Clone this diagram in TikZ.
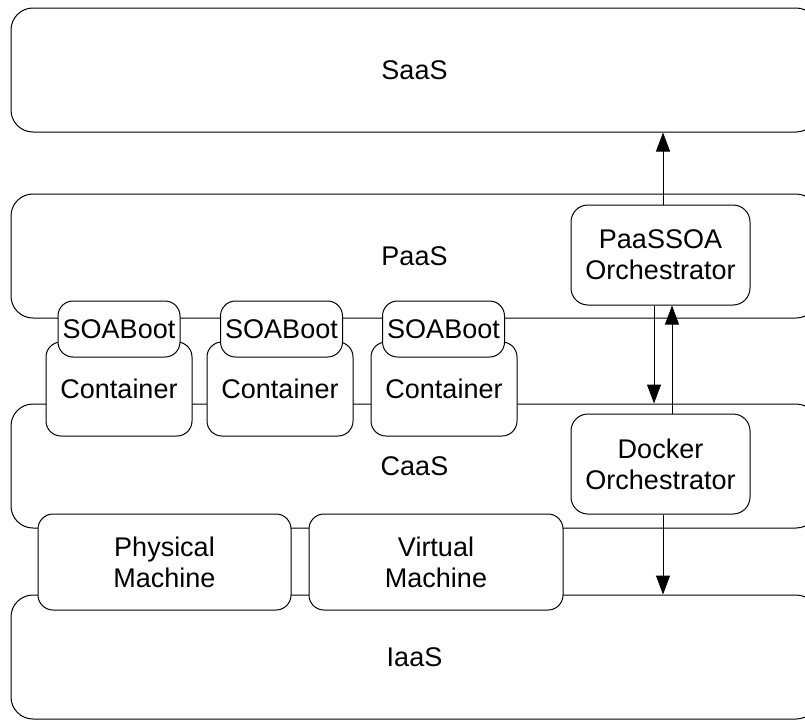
\documentclass[tikz,border=0pt]{standalone}
\usepackage{fontspec}
\setmainfont{Liberation Sans}
\usetikzlibrary{arrows.meta}
\tikzset{
  layer/.style={draw=black, line width=1pt, rounded corners=22pt, fill=white, inner sep=0pt, font=\fontsize{27}{31}\selectfont},
  box/.style={draw=black, line width=1pt, rounded corners=15pt, fill=white, inner sep=0pt, align=center, font=\fontsize{27}{31}\selectfont},
  arr/.style={line width=1pt, -{Triangle[length=19pt,width=14pt]}}
}
\begin{document}
\begin{tikzpicture}[x=1pt,y=-1pt]
\useasboundingbox (0,0) rectangle (805,720);
\clip (0,0) rectangle (805,720);
% layers
\node[layer, minimum width=807pt, minimum height=124pt] (saas) at (414.5,70) {SaaS};
\node[layer, minimum width=807pt, minimum height=124pt] (paas) at (414.5,256) {PaaS};
\node[layer, minimum width=807pt, minimum height=124pt] (caas) at (414.5,466) {CaaS};
\node[layer, minimum width=807pt, minimum height=124pt] (iaas) at (414.5,657) {IaaS};
% containers
\node[box, minimum width=146pt, minimum height=94pt] (c1) at (119,389) {Container};
\node[box, minimum width=146pt, minimum height=94pt] (c2) at (280,389) {Container};
\node[box, minimum width=146pt, minimum height=94pt] (c3) at (444,389) {Container};
% SOABoot
\node[box, minimum width=122pt, minimum height=56pt] (s1) at (119,329) {SOABoot};
\node[box, minimum width=122pt, minimum height=56pt] (s2) at (281.5,329) {SOABoot};
\node[box, minimum width=122pt, minimum height=56pt] (s3) at (443.5,329) {SOABoot};
% machines
\node[box, minimum width=253pt, minimum height=96pt] (pm) at (164.5,562) {Physical\\Machine};
\node[box, minimum width=254pt, minimum height=96pt] (vm) at (436,562) {Virtual\\Machine};
% orchestrators
\node[box, minimum width=179pt, minimum height=100pt, rounded corners=17pt] (pso) at (660.5,255) {PaaSSOA\\Orchestrator};
\node[box, minimum width=179pt, minimum height=100pt, rounded corners=17pt] (dock) at (660.5,464) {Docker\\Orchestrator};
% arrows
\draw[arr] ([xshift=2.5pt]pso.north) -- ([xshift=2.5pt]pso.north |- saas.south);
\draw[arr] ([xshift=-6.5pt]pso.south) -- ([xshift=-6.5pt]dock.north |- caas.north) ;
\draw[arr] ([xshift=11.5pt]dock.north) -- ([xshift=11.5pt]pso.south);
\draw[arr] ([xshift=2.5pt]dock.south) -- ([xshift=2.5pt]dock.south |- iaas.north);
\end{tikzpicture}
\end{document}
